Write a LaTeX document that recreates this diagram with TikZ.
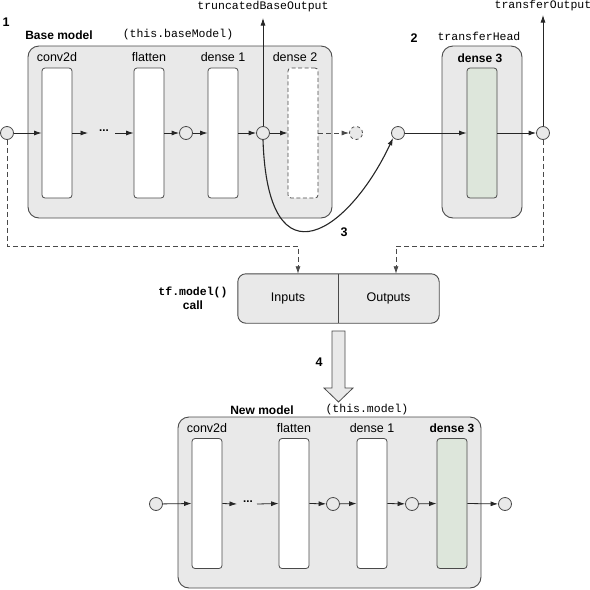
\documentclass[tikz,border=0pt]{standalone}
\usepackage{fontspec}
\setmainfont{Liberation Sans}
\setmonofont{Liberation Mono}
\usetikzlibrary{arrows.meta}

\definecolor{boxgray}{HTML}{E9E9E9}
\definecolor{headgreen}{HTML}{DDE6DB}
\definecolor{linegray}{HTML}{4A4A4A}

\tikzset{
  every node/.style={font=\fontsize{12.5}{14}\selectfont, inner sep=0pt},
  modelbox/.style={draw=linegray, fill=boxgray, rounded corners=11pt, line width=0.9pt},
  layer/.style={draw=linegray, fill=white, rounded corners=3pt, line width=0.8pt,
    minimum width=30pt, minimum height=130pt},
  headlayer/.style={layer, fill=headgreen},
  droplayer/.style={layer, dash pattern=on 4pt off 2.5pt, fill=white},
  dot/.style={circle, draw=linegray, fill=boxgray, line width=0.8pt, minimum size=13pt},
  arr/.style={-{Latex[length=7.5pt,width=5pt]}, line width=0.8pt, draw=black!85},
  dasharr/.style={arr, dash pattern=on 5pt off 3pt, draw=linegray},
  step num/.style={font=\fontsize{12.5}{14}\selectfont\bfseries},
  bold lbl/.style={font=\fontsize{12}{14}\selectfont\bfseries},
  code lbl/.style={font=\fontsize{11.5}{13}\selectfont\ttfamily},
}

\begin{document}
\begin{tikzpicture}[x=1pt,y=-1pt]
\useasboundingbox (0,0) rectangle (590,590);

%--- base model ----------------------------------------------------
\draw[modelbox] (28,46) rectangle (332,218);
\node[step num] (n1) at (6,22) {1};
\node[bold lbl] (basetitle) at (59,35) {Base model};
\node[code lbl] (basecode) at (178,35) {(this.baseModel)};

\node[layer] (conv) at (57,133) {};
\node[layer] (flat) at (149,133) {};
\node[layer] (dA) at (223,133) {};
\node[droplayer] (dB) at (303,133) {};
\node[] at (57,57) {conv2d};
\node[] at (149,57) {flatten};
\node[] at (223,57) {dense 1};
\node[] at (295,57) {dense 2};

\node[dot] (in0) at (7,133) {};
\node[dot] (c1) at (186,133) {};
\node[dot] (c2) at (263,133) {};
\node[dot, dashed] (cx) at (356,133) {};
\coordinate (gapL) at (88,133);
\coordinate (gapR) at (115,133);
\node[font=\fontsize{11.5}{13}\selectfont\bfseries] (dots) at (104,131) {...};

\draw[arr] (in0) -- (conv.west);
\draw[arr] (conv.east) -- (gapL);
\draw[arr] (gapR) -- (flat.west);
\draw[arr] (flat.east) -- (c1);
\draw[arr] (c1) -- (dA.west);
\draw[arr] (dA.east) -- (c2);
\draw[arr] (c2) -- (dB.west);
\draw[dasharr] (dB.east) -- (cx);

\coordinate (truncTip) at (263,18);
\node[code lbl] (trunc) at (263,7) {truncatedBaseOutput};
\draw[arr] (c2) -- (truncTip);

%--- transfer head -------------------------------------------------
\draw[modelbox] (442,46) rectangle (522,218);
\node[step num] (n2) at (414,38) {2};
\node[code lbl] (headcode) at (479,36) {transferHead};
\node[bold lbl] at (480,58) {dense 3};
\node[headlayer] (dC) at (482,133) {};

\node[dot] (c3) at (398,133) {};
\node[dot] (c4) at (543,133) {};
\draw[arr] (c3) -- (dC.west);
\draw[arr] (dC.east) -- (c4);

\coordinate (transTip) at (543,15);
\node[code lbl] (trans) at (543,6) {transferOutput};
\draw[arr] (c4) -- (transTip);

%--- step 3 --------------------------------------------------------
\draw[arr, line width=1.1pt] (c2.south) .. controls (268,290) and (350,230) .. (c3.south west);
\node[step num] (n3) at (344,232) {3};

%--- tf.model() call -----------------------------------------------
\node[minimum width=100pt, minimum height=49pt] (tfin) at (288,298.5) {};
\node[minimum width=101pt, minimum height=49pt] (tfout) at (388.5,298.5) {};
\draw[modelbox, rounded corners=8pt] (tfin.north west) rectangle (tfout.south east);
\draw[line width=0.8pt, linegray] (tfin.north east) -- (tfin.south east);
\node at (tfin) {Inputs};
\node at (tfout) {Outputs};
\node[font=\fontsize{11.5}{13}\selectfont\ttfamily\bfseries] (tfcall) at (193,292) {tf.model()};
\node[bold lbl] (tfcall2) at (193,305) {call};

\coordinate (rail) at (0,246);
\coordinate (inArr) at ([xshift=10pt]tfin.north);
\coordinate (outArr) at ([xshift=7.5pt]tfout.north);
\draw[dasharr] (in0.south) -- (in0 |- rail) -| (inArr);
\draw[dasharr] (c4.south) -- (c4 |- rail) -| (outArr);

%--- step 4: big arrow ---------------------------------------------
\draw[linegray, fill=boxgray, line width=0.8pt] (332,331) -- (345,331) -- (345,388) -- (353,388)
  -- (338.5,402) -- (324,388) -- (332,388) -- cycle;
\node[step num] (n4) at (319,362) {4};

%--- new model -----------------------------------------------------
\draw[modelbox] (178,417) rectangle (481,588);
\node[bold lbl] (newtitle) at (262,410) {New model};
\node[code lbl] (newcode) at (367,410) {(this.model)};

\node[layer] (nconv) at (207,503.5) {};
\node[layer] (nflat) at (294,503.5) {};
\node[layer] (ndA) at (372,503.5) {};
\node[headlayer] (ndC) at (452,503.5) {};
\node[] at (207,428) {conv2d};
\node[] at (294,428) {flatten};
\node[] at (372,428) {dense 1};
\node[bold lbl] at (452,428) {dense 3};

\node[dot] (nin) at (156,504) {};
\node[dot] (nc1) at (333,504) {};
\node[dot] (nc2) at (412,504) {};
\node[dot] (nout) at (505,504) {};
\coordinate (ngapL) at (237,504);
\coordinate (ngapR) at (257,504);
\node[font=\fontsize{11.5}{13}\selectfont\bfseries] (ndots) at (248,502) {...};

\draw[arr] (nin) -- (nconv.west);
\draw[arr] (nconv.east) -- (ngapL);
\draw[arr] (ngapR) -- (nflat.west);
\draw[arr] (nflat.east) -- (nc1);
\draw[arr] (nc1) -- (ndA.west);
\draw[arr] (ndA.east) -- (nc2);
\draw[arr] (nc2) -- (ndC.west);
\draw[arr] (ndC.east) -- (nout);

\end{tikzpicture}
\end{document}
